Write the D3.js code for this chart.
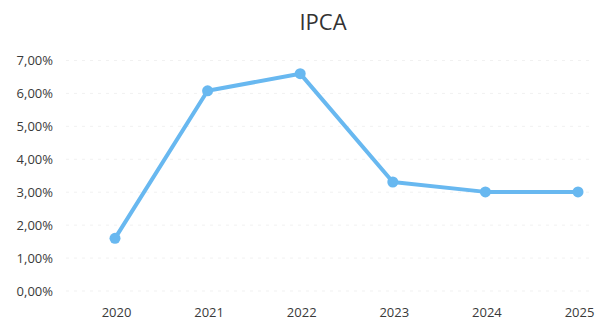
<!DOCTYPE html>
<html>
<head>
<meta charset="utf-8">
<script src="https://cdn.jsdelivr.net/npm/d3@7"></script>
<style>
  html, body { margin: 0; padding: 0; background: #fff; }
  svg { display: block; }
</style>
</head>
<body>
<svg id="chart" width="598" height="322"></svg>
<script>
// IPCA annual rate by year
const years = ["2020", "2021", "2022", "2023", "2024", "2025"];
const ipca = [1.6, 6.08, 6.6, 3.31, 3.01, 3.01];
const yTicks = [0, 1, 2, 3, 4, 5, 6, 7];
const title = "IPCA";

const svg = d3.select("#chart");
const font = "'Open Sans', 'Noto Sans', sans-serif";

const x = d3.scalePoint().domain(years).range([115, 578]);
const y = d3.scaleLinear().domain([0, 7]).range([291, 60.5]);

const fmt = v => v.toFixed(2).replace(".", ",") + "%";

// faint horizontal gridlines
svg.append("g")
  .selectAll("line")
  .data(yTicks)
  .join("line")
  .attr("x1", 66).attr("x2", 594)
  .attr("y1", d => y(d)).attr("y2", d => y(d))
  .attr("stroke", "#f1f1f1")
  .attr("stroke-width", 1)
  .attr("stroke-dasharray", "3,5");

// y axis labels
const yAxis = d3.axisLeft(y).tickValues(yTicks).tickFormat(fmt).tickSize(0).tickPadding(0);
svg.append("g")
  .attr("transform", "translate(53,0)")
  .call(yAxis)
  .call(g => g.select(".domain").remove())
  .call(g => g.selectAll("text")
    .attr("font-family", font)
    .attr("font-size", 13)
    .attr("fill", "#3a3a3a"));

// x axis labels
const xAxis = d3.axisBottom(x).tickSize(0).tickPadding(0);
svg.append("g")
  .attr("transform", "translate(1,308)")
  .call(xAxis)
  .call(g => g.select(".domain").remove())
  .call(g => g.selectAll("text")
    .attr("font-family", font)
    .attr("font-size", 13)
    .attr("fill", "#3a3a3a"));

// series line
const pts = years.map((yr, i) => [x(yr), y(ipca[i])]);
svg.append("path")
  .datum(pts)
  .attr("d", d3.line())
  .attr("fill", "none")
  .attr("stroke", "#68b8f0")
  .attr("stroke-width", 4)
  .attr("stroke-linejoin", "round")
  .attr("stroke-linecap", "round");

svg.append("g")
  .selectAll("circle")
  .data(pts)
  .join("circle")
  .attr("cx", d => d[0])
  .attr("cy", d => d[1])
  .attr("r", 5.5)
  .attr("fill", "#68b8f0");

// title
svg.append("text")
  .attr("x", 323)
  .attr("y", 30)
  .attr("text-anchor", "middle")
  .attr("font-family", font)
  .attr("font-size", 22)
  .attr("fill", "#333")
  .text(title);
</script>
</body>
</html>
